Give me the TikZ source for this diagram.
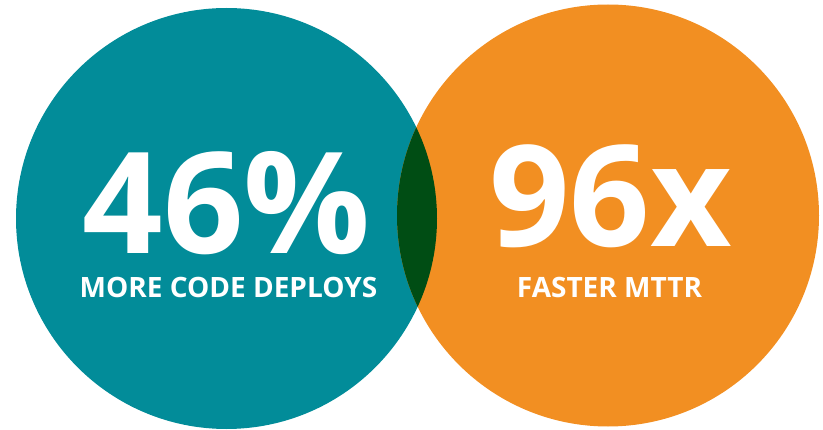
\documentclass[tikz,border=0pt]{standalone}
\usepackage{fontspec}
\setmainfont{Open Sans}
\definecolor{sarcelle}{RGB}{2,140,153}
\definecolor{orange}{RGB}{242,143,34}
\definecolor{vertfonce}{RGB}{0,77,20}
\begin{document}
\begin{tikzpicture}[x=1pt,y=1pt]
\tikzstyle{chiffre}=[text=white,font=\bfseries\fontsize{141}{141}\selectfont,anchor=base,inner sep=0pt,text depth=0pt]
\tikzstyle{legende}=[text=white,font=\bfseries\fontsize{28}{28}\selectfont,anchor=base,inner sep=0pt,text height=20pt]
\useasboundingbox (0,0) rectangle (823,429);
\coordinate (cg) at (226.5,210.5);
\coordinate (cd) at (608,213.5);
\fill[sarcelle] (cg) circle (210.5);
\fill[orange] (cd) circle (211);
%intersection
\begin{scope}
\clip (cg) circle (210.5);
\fill[vertfonce] (cd) circle (211);
\end{scope}
\node[chiffre] (deploy) at (226.5,175) {46\%};
\node[legende] (code) at (228.5,131) {MORE CODE DEPLOYS};
\node[chiffre] (mttr) at (610.5,182) {96x};
\node[legende] (rapide) at (609.5,131) {FASTER MTTR};
\end{tikzpicture}
\end{document}
